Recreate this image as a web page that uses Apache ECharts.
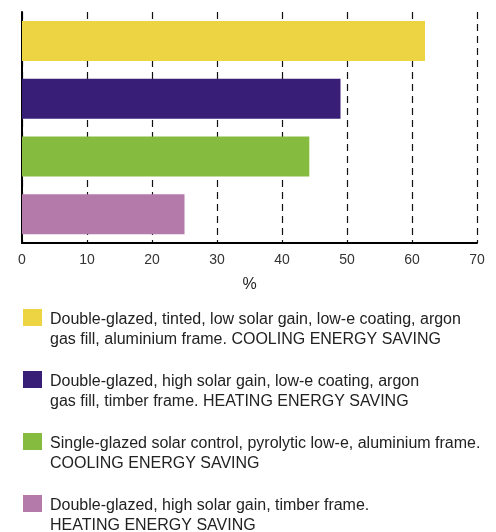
<!DOCTYPE html>
<html><head><meta charset="utf-8">
<script src="https://cdn.jsdelivr.net/npm/echarts@6/dist/echarts.min.js"></script>
<style>html,body{margin:0;padding:0;background:#fff}#c{width:496px;height:532px}</style>
</head><body><div id="c"></div>
<script>
const categories = ['Double-glazed tinted', 'Double-glazed high solar gain low-e', 'Single-glazed solar control', 'Double-glazed high solar gain'];
const values = [62, 49, 44.2, 25];
const colors = ['#ECD443', '#391E77', '#85BC40', '#B47AAA'];
const legendLines = [
  ['Double-glazed, tinted, low solar gain, low-e coating, argon', 'gas fill, aluminium frame. COOLING ENERGY SAVING'],
  ['Double-glazed, high solar gain, low-e coating, argon', 'gas fill, timber frame. HEATING ENERGY SAVING'],
  ['Single-glazed solar control, pyrolytic low-e, aluminium frame.', 'COOLING ENERGY SAVING'],
  ['Double-glazed, high solar gain, timber frame.', 'HEATING ENERGY SAVING']
];
const xTicks = [0, 10, 20, 30, 40, 50, 60, 70];

const chart = echarts.init(document.getElementById('c'));
const font = 'Liberation Sans, Arial, sans-serif';
const graphics = [];
legendLines.forEach((lines, i) => {
  const top = 309 + i * 62;
  graphics.push({type: 'rect', left: 23, top: top, shape: {width: 19, height: 17}, style: {fill: colors[i]}});
  graphics.push({type: 'text', left: 50, top: top + 1, style: {text: lines.join('\n'), font: '16px ' + font, lineHeight: 20, fill: '#222'}});
});
chart.setOption({
  animation: false,
  grid: {left: 22, right: 19, top: 12, bottom: 289, containLabel: false},
  xAxis: {
    type: 'value', min: xTicks[0], max: xTicks[xTicks.length - 1], interval: 10,
    name: '%', nameLocation: 'middle', nameGap: 34,
    nameTextStyle: {fontSize: 16, color: '#222', fontFamily: font},
    axisLine: {show: true, lineStyle: {color: '#000', width: 2}},
    axisTick: {show: false},
    axisLabel: {fontSize: 14, color: '#333', fontFamily: font, margin: 10},
    splitLine: {show: true, lineStyle: {color: '#111', width: 1.2, type: [7, 5]}}
  },
  yAxis: {
    type: 'category', data: categories, inverse: true,
    axisLine: {show: true, lineStyle: {color: '#000', width: 2}},
    axisTick: {show: false}, axisLabel: {show: false}, splitLine: {show: false}
  },
  series: [{
    type: 'bar', barWidth: 40,
    data: values.map((v, i) => ({value: v, itemStyle: {color: colors[i]}}))
  }],
  graphic: graphics
});
</script></body></html>
